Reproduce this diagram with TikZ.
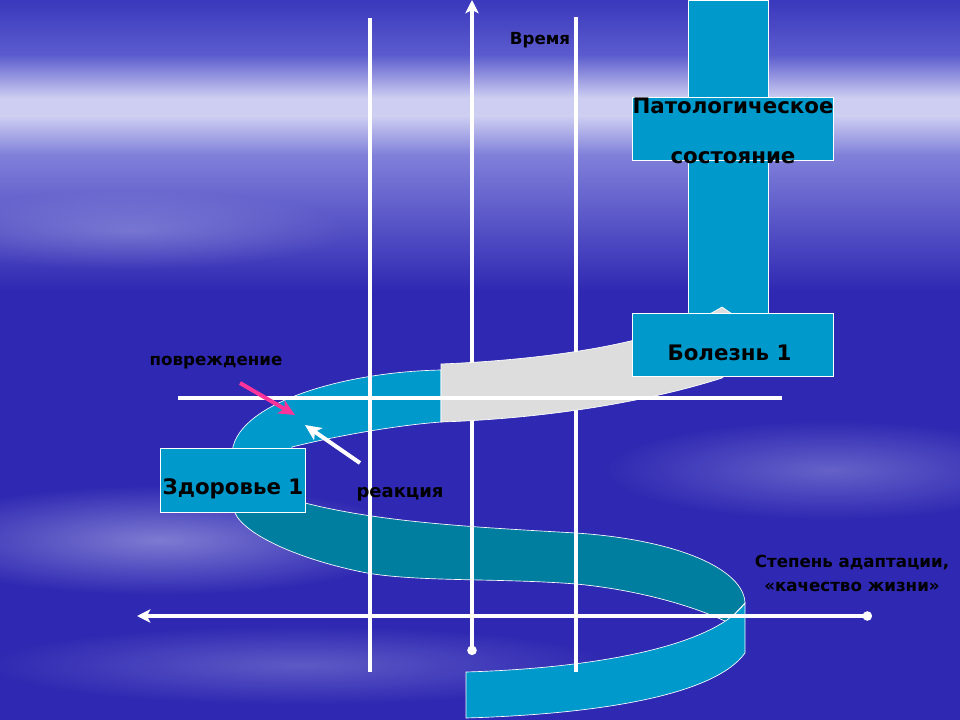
\documentclass[tikz,border=0pt]{standalone}
\usepackage{fontspec}
\setmainfont{DejaVu Sans}
\usetikzlibrary{arrows.meta,fadings}
\tikzfading[name=softglow,inner color=transparent!0,outer color=transparent!100]
\definecolor{bgblue}{RGB}{46,40,178}
\definecolor{bgtop}{RGB}{58,56,188}
\definecolor{bgmid}{RGB}{92,92,206}
\definecolor{haze}{RGB}{206,206,242}
\definecolor{hazemid}{RGB}{128,128,218}
\definecolor{boxteal}{RGB}{0,153,204}
\definecolor{darkteal}{RGB}{0,126,160}
\definecolor{ribgray}{RGB}{221,221,221}
\definecolor{pinkarr}{RGB}{255,51,153}

\begin{document}
\begin{tikzpicture}[x=0.75pt,y=-0.75pt,
  box/.style={draw=white,line width=0.6pt,fill=boxteal,inner sep=0pt},
  lbl/.style={font=\bfseries\fontsize{16}{19}\selectfont,inner sep=0pt},
  small/.style={font=\bfseries\fontsize{12.5}{15}\selectfont,inner sep=0pt},
  wline/.style={white,line width=2.6pt},
  band/.style={draw=white,line width=0.5pt},
  glow/.style={haze,path fading=softglow}]
\useasboundingbox (0,0) rectangle (960,720);
\fill[bgblue] (0,0) rectangle (960,720);
\shade[top color=bgtop,bottom color=bgmid] (0,0) rectangle (960,55);
\shade[top color=bgmid,bottom color=haze] (0,55) rectangle (960,98);
\fill[haze] (0,98) rectangle (960,116);
\shade[top color=haze,bottom color=hazemid] (0,116) rectangle (960,155);
\shade[top color=hazemid,bottom color=bgblue] (0,155) rectangle (960,292);
\fill[glow,opacity=.5] (160,540) ellipse [x radius=260,y radius=55];
\fill[glow,opacity=.35] (830,470) ellipse [x radius=230,y radius=50];
\fill[glow,opacity=.3] (300,665) ellipse [x radius=320,y radius=40];
\fill[glow,opacity=.3] (130,230) ellipse [x radius=220,y radius=40];

\draw[box] (688,0) rectangle (768,315);
\draw[band,fill=darkteal] (240,488) -- (305,503) .. controls (380,522) and (470,527) .. (576,533)
  .. controls (680,540) and (744,570) .. (745,603) -- (727,622) .. controls (680,600) and (620,588) .. (576,584)
  .. controls (500,578) and (420,582) .. (367,573) .. controls (300,560) and (245,535) .. (235,513) -- cycle;
\draw[band,fill=boxteal] (441,370) .. controls (340,372) and (232,405) .. (232,455) -- (232,495) -- (290,495)
  -- (292,447) .. controls (340,435) and (400,425) .. (441,422) -- cycle;
\draw[band,fill=boxteal] (466,672) .. controls (600,668) and (715,645) .. (745,603) -- (745,653)
  .. controls (715,695) and (600,714) .. (466,718) -- cycle;

\coordinate (t0) at (472,655);
\coordinate (t1) at (472,0);
\coordinate (s0) at (872,616);
\coordinate (s1) at (137,616);
\draw[wline] (370,18) -- (370,672);
\draw[wline] (576,17) -- (576,672);
\draw[wline,{Circle[length=7pt]}-{Stealth[length=10pt,width=10pt,inset=2.5pt]}] (t0) -- (t1);
\draw[band,fill=ribgray] (441,364) .. controls (540,360) and (660,345) .. (722,307) -- (770,340) -- (722,378)
  .. controls (660,398) and (560,418) .. (441,422) -- cycle;
\draw[wline] (178,398) -- (782,398);
\draw[wline,{Circle[length=7pt]}-{Stealth[length=10pt,width=10pt,inset=2.5pt]}] (s0) -- (s1);

\node[box,minimum width=150.75pt,minimum height=47.25pt] (patol) at (732.5,128.5) {};
\node[box,minimum width=150.75pt,minimum height=47.25pt] (bolezn) at (732.5,344.5) {};
\node[box,minimum width=108.75pt,minimum height=48pt] (zdorov) at (232.5,480) {};
\node[lbl,align=center] (patoltxt) at (733,131) {Патологическое\\[19pt]состояние};
\node[lbl] (boleztxt) at (729.5,352.5) {Болезнь 1};
\node[lbl] (zdortxt) at (233,489) {Здоровье 1};
\node[small] (povr) at (216,363) {повреждение};
\node[small,font=\bfseries\fontsize{13.5}{16}\selectfont] (reak) at (400,494) {реакция};
\node[small] (vrem) at (540,40.5) {Время};
\node[small,align=center] (stepen) at (852,573) {Степень адаптации,\\[3pt]«качество жизни»};

\coordinate (p0) at (240,383);
\coordinate (p1) at (295,415);
\coordinate (r0) at (360,463);
\coordinate (r1) at (305,425);
\draw[pinkarr,line width=3pt,-{Stealth[length=12pt,width=11pt,inset=3pt]}] (p0) -- (p1);
\draw[white,line width=3pt,-{Stealth[length=12pt,width=11pt,inset=3pt]}] (r0) -- (r1);
\end{tikzpicture}
\end{document}
